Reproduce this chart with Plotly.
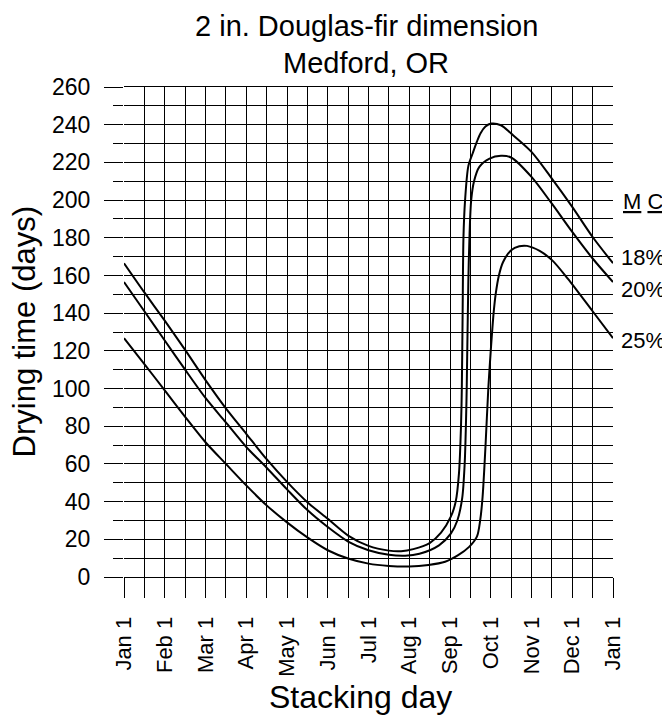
import plotly.graph_objects as go

# x positions are in months since Jan 1 (0 = Jan 1, 12 = next Jan 1)
month_labels = ["Jan 1", "Feb 1", "Mar 1", "Apr 1", "May 1", "Jun 1", "Jul 1",
                "Aug 1", "Sep 1", "Oct 1", "Nov 1", "Dec 1", "Jan 1"]

mc18_x = [0, 0.5, 1.0, 1.5, 2.0, 2.5, 3.0, 3.5, 4.0, 4.5, 5.0, 5.5, 6.0, 6.5, 6.8, 7.1,
          7.5, 7.78, 8.02, 8.14, 8.22, 8.27, 8.29, 8.31, 8.33, 8.37, 8.45, 8.56, 8.66, 8.75,
          8.87, 9.01, 9.25, 9.5, 10.0, 10.5, 11.0, 11.5, 12.0]
mc18_y = [166.5, 151, 136, 120.5, 104.5, 89.5, 76, 62.5, 50.5, 39.7, 30.9, 22, 16.5, 14, 13.7, 14.8,
          18, 23.5, 32, 40, 55, 80, 100, 140, 180, 200, 218, 225, 231, 235.5,
          239, 240.6, 239.7, 235.3, 225.6, 211.4, 196.4, 180.4, 166.5]

mc20_x = [0, 0.5, 1.0, 1.5, 2.0, 2.5, 3.0, 3.5, 4.0, 4.5, 5.0, 5.5, 6.0, 6.5, 6.9,
          7.25, 7.73, 8.02, 8.18, 8.3, 8.36, 8.39, 8.41, 8.45, 8.48, 8.52, 8.59, 8.72, 8.97,
          9.25, 9.5, 10.0, 10.5, 11.0, 11.5, 12.0]
mc20_y = [156.5, 141, 125.5, 110, 95, 82, 69, 58, 46.5, 35.5, 26.5, 18.8, 14.2, 11.8, 11.3,
          12.3, 16.8, 23, 30, 42, 60, 80, 100, 157, 182, 200, 210, 217.6, 222,
          223.5, 222.6, 212.3, 198.1, 183.1, 169, 156.5]

mc25_x = [0, 0.5, 1.0, 1.5, 2.0, 2.5, 3.0, 3.5, 4.0, 4.5, 5.0, 5.5, 6.0, 6.5, 7.0,
          7.47, 7.88, 8.2, 8.47, 8.66, 8.74, 8.8, 8.87, 8.94, 9.0, 9.07, 9.12, 9.2, 9.3,
          9.5, 9.7, 9.89, 10.2, 10.51, 10.89, 11.5, 12.0]
mc25_y = [126.7, 113, 99, 85, 71.5, 60, 48.6, 38, 29, 21, 14.2, 9.8, 7.1, 5.9, 5.6,
          6.4, 8.1, 11.6, 16, 21.4, 30, 42.6, 69, 100, 120, 140, 150, 160, 167,
          173.4, 175.5, 175.7, 173, 168, 158.3, 141, 126.7]

mc_labels = ["18%", "20%", "25%"]
mc_label_y = [169.4, 152.8, 125.4]

FONT = "Liberation Sans, Arial, sans-serif"

fig = go.Figure()
for xs, ys, name in [(mc18_x, mc18_y, "18%"), (mc20_x, mc20_y, "20%"), (mc25_x, mc25_y, "25%")]:
    fig.add_trace(go.Scatter(x=xs, y=ys, mode="lines", name=name,
                             line=dict(color="black", width=2, shape="spline", smoothing=0.8),
                             showlegend=False, cliponaxis=False))

annotations = [
    dict(x=0.495, y=1.124, xref="paper", yref="paper", text="2 in. Douglas-fir dimension",
         showarrow=False, xanchor="center", yanchor="middle",
         font=dict(size=29, color="black", family=FONT)),
    dict(x=0.495, y=1.049, xref="paper", yref="paper", text="Medford, OR",
         showarrow=False, xanchor="center", yanchor="middle",
         font=dict(size=29, color="black", family=FONT)),
    dict(x=-0.203, y=0.5006, xref="paper", yref="paper", text="Drying time (days)",
         showarrow=False, textangle=-90, xanchor="center", yanchor="middle",
         font=dict(size=31, color="black", family=FONT)),
    dict(x=0.4836, y=-0.245, xref="paper", yref="paper", text="Stacking day",
         showarrow=False, xanchor="center", yanchor="middle",
         font=dict(size=32, color="black", family=FONT)),
    dict(x=12, y=199.5, xref="x", yref="y", text="<u>M</u> <u>C</u>", showarrow=False,
         xanchor="left", xshift=8, font=dict(size=22, color="black", family=FONT)),
]
for lab, yv in zip(mc_labels, mc_label_y):
    annotations.append(dict(x=12, y=yv, xref="x", yref="y", text=lab, showarrow=False,
                            xanchor="left", xshift=6, font=dict(size=22, color="black", family=FONT)))

# the page body adds an 8px offset, so the figure is sized to fill the window exactly
fig.update_layout(
    width=662, height=711,
    margin=dict(l=116, r=57, t=79, b=142, autoexpand=False),
    paper_bgcolor="white", plot_bgcolor="white",
    font=dict(family=FONT, color="black"),
    annotations=annotations,
    xaxis=dict(
        range=[0, 12], tickmode="array", tickvals=list(range(13)), ticktext=month_labels,
        tickangle=-90, tickfont=dict(size=22, family=FONT), automargin=False,
        showgrid=True, gridcolor="black", gridwidth=1,
        ticks="outside", ticklen=20, tickcolor="black", tickwidth=1, ticklabelstandoff=10,
        minor=dict(dtick=0.5, tick0=0, showgrid=True, gridcolor="black", gridwidth=1,
                   ticks="outside", ticklen=20, tickcolor="black", tickwidth=1),
        showline=True, linecolor="black", mirror=True, zeroline=False,
    ),
    yaxis=dict(
        range=[0, 260], tickmode="linear", dtick=20, tick0=0,
        tickfont=dict(size=23, family=FONT), automargin=False,
        showgrid=True, gridcolor="black", gridwidth=1,
        ticks="outside", ticklen=19, tickcolor="black", tickwidth=1, ticklabelstandoff=9,
        minor=dict(dtick=10, tick0=0, showgrid=True, gridcolor="black", gridwidth=1,
                   ticks="outside", ticklen=10, tickcolor="black", tickwidth=1),
        showline=False, zeroline=False,
    ),
)

fig.write_html("out.html")
